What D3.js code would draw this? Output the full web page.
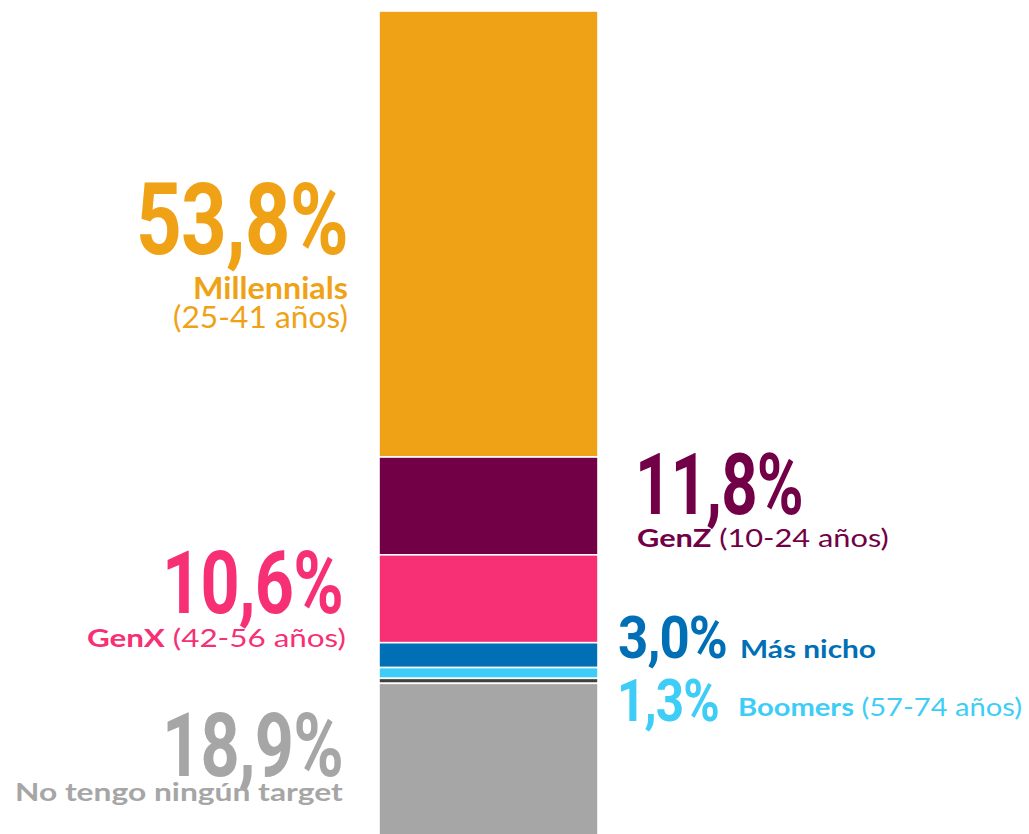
<!DOCTYPE html>
<html>
<head>
<meta charset="utf-8">
<script src="https://cdn.jsdelivr.net/npm/d3@7"></script>
<style>
  html, body { margin: 0; padding: 0; background: #ffffff; }
  svg { display: block; }
</style>
</head>
<body>
<div id="chart"></div>
<script>
// ---- Data ----
const categories = ["Millennials", "GenZ", "GenX", "Más nicho", "Boomers", "Otros", "No tengo ningún target"];
const values = [53.8, 11.8, 10.6, 3.0, 1.3, 0.6, 18.9];
const colors = ["#F0A217", "#720046", "#F72F75", "#006FB6", "#3DCDF6", "#404040", "#A6A6A6"];
const boldLabels = ["Millennials", "GenZ", "GenX", "Más nicho", "Boomers", "", "No tengo ningún target"];
const regularLabels = ["(25-41 años)", "(10-24 años)", "(42-56 años)", "", "(57-74 años)", "", ""];

// ---- Layout ----
const W = 1029, H = 834;
const svg = d3.select("#chart").append("svg").attr("width", W).attr("height", H);

const x = d3.scaleBand().domain(["total"]).range([379, 598]).padding(0);
const y = d3.scaleLinear().domain([0, 100]).range([11, 840]);

const locale = d3.formatLocale({ decimal: ",", thousands: ".", grouping: [3], currency: ["", "€"] });
const fmt = v => locale.format(".1f")(v) + "%";

let cum = 0;
const segs = categories.map((c, i) => {
  const s = { cat: c, value: values[i], color: colors[i], start: cum, end: cum + values[i], i };
  cum += values[i];
  return s;
});

svg.append("g").selectAll("rect").data(segs).join("rect")
  .attr("x", x("total"))
  .attr("width", x.bandwidth())
  .attr("y", d => y(d.start))
  .attr("height", d => y(d.end) - y(d.start))
  .attr("fill", d => d.color)
  .attr("stroke", "#ffffff")
  .attr("stroke-width", 1.6);

// label layout per category index: ref = segment anchor, positions relative to it
const labelLayout = {
  0: { ref: "mid", num: { x: 136, w: 212, dy: 20, size: 100 },
       lines: [ { x: 193, w: 155, dy: 65, size: 30, parts: [[0, 700]] },
                { x: 173, w: 175, dy: 94, size: 30, parts: [[1, 400]] } ] },
  1: { ref: "top", num: { x: 635, w: 168, dy: 57, size: 86 },
       lines: [ { x: 637, w: 252, dy: 90, size: 24.5, parts: [[0, 700], [1, 400]] } ] },
  2: { ref: "top", num: { x: 162, w: 181, dy: 58, size: 87 },
       lines: [ { x: 87, w: 259, dy: 92, size: 24.5, parts: [[0, 700], [1, 400]] } ] },
  3: { ref: "top", num: { x: 618, w: 109, dy: 15.5, size: 59 },
       lines: [ { x: 740, w: 136, dy: 15.5, size: 25.5, parts: [[0, 700]] } ] },
  4: { ref: "top", num: { x: 617, w: 102, dy: 53, size: 60 },
       lines: [ { x: 738, w: 284, dy: 48, size: 25.5, parts: [[0, 700], [1, 400]] } ] },
  6: { ref: "top", num: { x: 162, w: 181, dy: 92.5, size: 89 },
       lines: [ { x: 15, w: 328, dy: 118, size: 24, parts: [[0, 700]] } ] }
};

function fitText(sel, left, width, baseline) {
  const bb = sel.node().getBBox();
  const sx = bb.width > 0 ? width / bb.width : 1;
  sel.attr("transform", `translate(${left - bb.x * sx},${baseline}) scale(${sx},1)`);
}

const lg = svg.append("g");
segs.forEach(s => {
  const L = labelLayout[s.i];
  if (!L) return;
  const refY = L.ref === "mid" ? (y(s.start) + y(s.end)) / 2 : y(s.start);
  // big number
  const t = lg.append("text")
    .attr("x", 0).attr("y", 0)
    .attr("font-family", "Roboto, 'Liberation Sans', sans-serif")
    .attr("font-weight", 700)
    .attr("font-size", L.num.size)
    .attr("fill", s.color)
    .attr("letter-spacing", "-1")
    .text(fmt(s.value));
  fitText(t, L.num.x, L.num.w, refY + L.num.dy);
  // sub lines
  L.lines.forEach(line => {
    const tt = lg.append("text")
      .attr("x", 0).attr("y", 0)
      .attr("font-family", "Lato, 'Open Sans', sans-serif")
      .attr("font-size", line.size)
      .attr("fill", s.color)
      .attr("xml:space", "preserve");
    line.parts.forEach(([k, wgt], j) => {
      const txt = k === 0 ? boldLabels[s.i] : regularLabels[s.i];
      tt.append("tspan").attr("font-weight", wgt).text((j > 0 ? "\u00A0" : "") + txt.trim());
    });
    fitText(tt, line.x, line.w, refY + line.dy);
  });
});
</script>
</body>
</html>
